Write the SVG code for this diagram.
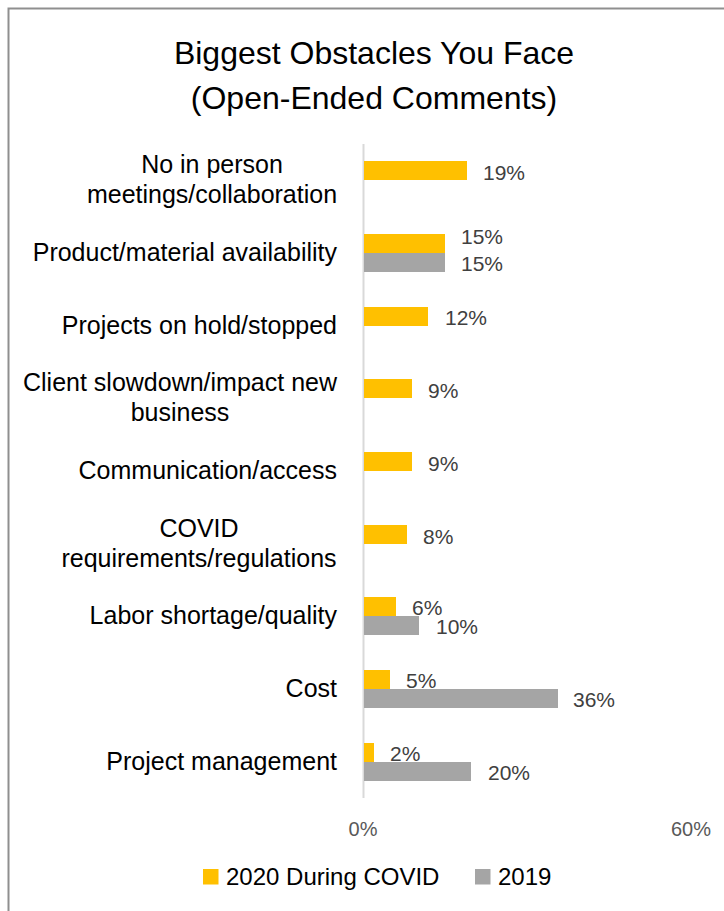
<svg xmlns="http://www.w3.org/2000/svg" width="724" height="911" viewBox="0 0 724 911">
<style>
text{font-family:"Liberation Sans",Arial,sans-serif}
.title{font-size:32px;fill:#000;text-anchor:middle}
.cat{font-size:25px;fill:#000;text-anchor:end}
.catc{font-size:25px;fill:#000;text-anchor:middle}
.val{font-size:21px;fill:#404040}
.ax{font-size:20px;fill:#595959;text-anchor:middle}
.leg{font-size:24px;fill:#000}
.y{fill:#FFC000}
.g{fill:#A5A5A5}
</style>
<rect x="8.5" y="8.5" width="740" height="920" fill="#fff" stroke="#8f8f8f" stroke-width="2"/>
<g id="title">
<text class="title" x="374" y="64">Biggest Obstacles You Face</text>
<text class="title" x="374" y="109">(Open-Ended Comments)</text>
</g>
<g id="axis">
<line x1="363.5" y1="144" x2="363.5" y2="798" stroke="#d9d9d9" stroke-width="2"/>
<text class="ax" x="363" y="836">0%</text>
<text class="ax" x="691" y="836">60%</text>
</g>
<g id="cat1">
<text class="catc" x="212" y="172.7">No in person</text>
<text class="catc" x="212" y="203.3">meetings/collaboration</text>
<rect class="y" x="364" y="161" width="103" height="19"/>
<text class="val" x="483" y="180">19%</text>
</g>
<g id="cat2">
<text class="cat" x="337" y="261">Product/material availability</text>
<rect class="y" x="364" y="234" width="81" height="19"/>
<rect class="g" x="364" y="253" width="81" height="19"/>
<text class="val" x="461" y="244">15%</text>
<text class="val" x="461" y="271">15%</text>
</g>
<g id="cat3">
<text class="cat" x="337" y="334">Projects on hold/stopped</text>
<rect class="y" x="364" y="307" width="64" height="19"/>
<text class="val" x="445" y="325">12%</text>
</g>
<g id="cat4">
<text class="catc" x="180" y="390.7">Client slowdown/impact new</text>
<text class="catc" x="180" y="421.3">business</text>
<rect class="y" x="364" y="379" width="48" height="19"/>
<text class="val" x="428" y="397.5">9%</text>
</g>
<g id="cat5">
<text class="cat" x="337" y="479">Communication/access</text>
<rect class="y" x="364" y="452" width="48" height="19"/>
<text class="val" x="428" y="470.5">9%</text>
</g>
<g id="cat6">
<text class="catc" x="199" y="536.7">COVID</text>
<text class="catc" x="199" y="567.3">requirements/regulations</text>
<rect class="y" x="364" y="525" width="43" height="19"/>
<text class="val" x="423" y="543.5">8%</text>
</g>
<g id="cat7">
<text class="cat" x="337" y="624">Labor shortage/quality</text>
<rect class="y" x="364" y="597" width="32" height="19"/>
<rect class="g" x="364" y="616" width="55" height="19"/>
<text class="val" x="412" y="615">6%</text>
<text class="val" x="436" y="634">10%</text>
</g>
<g id="cat8">
<text class="cat" x="337" y="697">Cost</text>
<rect class="y" x="364" y="670" width="26" height="19"/>
<rect class="g" x="364" y="689" width="194" height="19"/>
<text class="val" x="406" y="688">5%</text>
<text class="val" x="573" y="707">36%</text>
</g>
<g id="cat9">
<text class="cat" x="337" y="770">Project management</text>
<rect class="y" x="364" y="743" width="10" height="19"/>
<rect class="g" x="364" y="762" width="107" height="19"/>
<text class="val" x="390" y="761">2%</text>
<text class="val" x="488" y="780">20%</text>
</g>
<g id="connectors"></g>
<g id="legend">
<rect class="y" x="203" y="869" width="15.5" height="15.5"/>
<text class="leg" x="226" y="884.5">2020 During COVID</text>
<rect class="g" x="475" y="869" width="15.5" height="15.5"/>
<text class="leg" x="498" y="884.5">2019</text>
</g>
</svg>
